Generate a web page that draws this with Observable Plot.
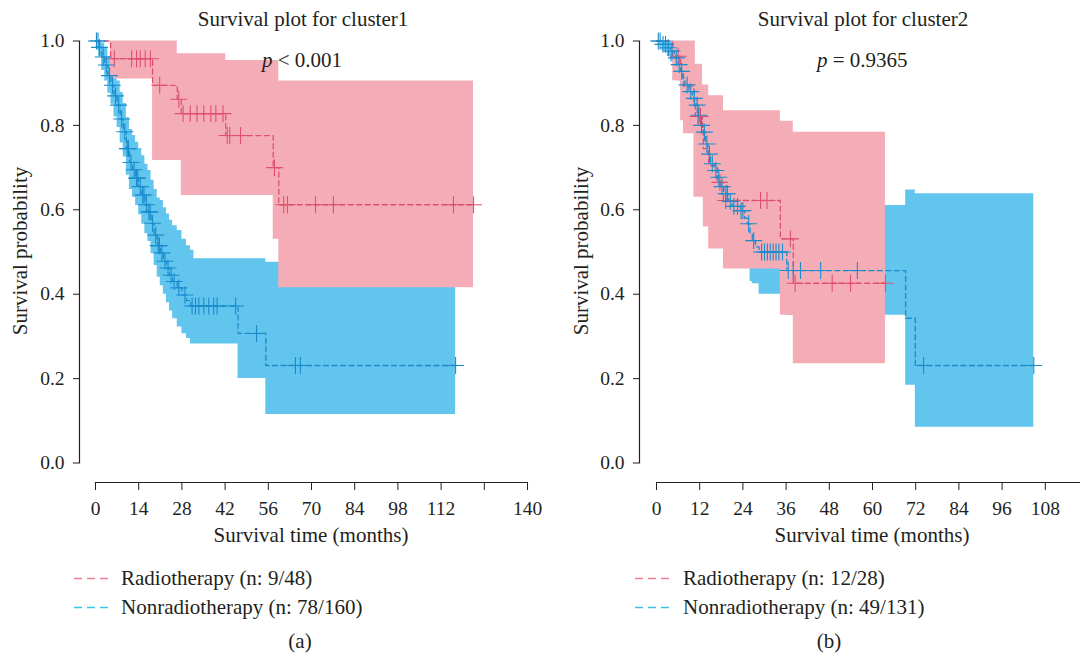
<!DOCTYPE html>
<html><head><meta charset="utf-8">
<script src="https://cdn.jsdelivr.net/npm/d3@7"></script>
<script src="https://cdn.jsdelivr.net/npm/@observablehq/plot@0.6"></script>
<style>
html,body{margin:0;padding:0;background:#fff;width:1080px;height:656px;overflow:hidden;}
body{position:relative;font-family:"Liberation Serif","Times New Roman",serif;color:#231f20;}
.abs{position:absolute;white-space:nowrap;font-size:21px;line-height:21px;}
.ctr{transform:translateX(-50%);}
.rot{transform:translate(-50%,-50%) rotate(-90deg);}
</style></head><body>
<script>
// ---------- Cluster 1 : Radiotherapy ----------
const c1RadTime  = [0, 4.9, 18.5, 26.5, 27.8, 42.2, 57.6, 59.4];
const c1RadSurv  = [1, 0.958, 0.895, 0.862, 0.828, 0.776, 0.70, 0.612];
const c1RadUpper = [1, 1.0, 1.0, 0.970, 0.970, 0.954, 0.954, 0.905];
const c1RadLower = [1, 0.910, 0.717, 0.717, 0.634, 0.634, 0.53, 0.415];
const c1RadEnd = 122.5;
const c1RadCensor = [6.1, 11.7, 13.3, 14.5, 16.1, 17.8, 20.8, 27.0, 28.4, 30.7, 32.9, 35.1, 37.4, 39.0, 41.3, 42.7, 43.5, 47.0, 58.0, 61.0, 62.2, 71.3, 77.1, 116.0, 122.5];
// ---------- Cluster 1 : Nonradiotherapy ----------
const c1NonTime  = [0, 1, 2, 3, 4, 5, 6, 7, 8, 9, 10, 11, 12, 13, 14, 15, 16, 17, 18, 19, 20, 21, 22, 23, 24, 25, 26.5, 28, 29.5, 30.8, 31.9, 46.2, 55.2];
const c1NonSurv  = [1, 0.985, 0.962, 0.943, 0.918, 0.895, 0.870, 0.848, 0.815, 0.785, 0.745, 0.712, 0.695, 0.675, 0.655, 0.635, 0.612, 0.595, 0.568, 0.540, 0.515, 0.498, 0.478, 0.462, 0.445, 0.430, 0.415, 0.398, 0.385, 0.372, 0.372, 0.307, 0.231];
const c1NonUpper = [1, 1.000, 0.995, 0.982, 0.963, 0.943, 0.925, 0.905, 0.878, 0.852, 0.818, 0.790, 0.776, 0.760, 0.745, 0.728, 0.708, 0.693, 0.670, 0.648, 0.628, 0.622, 0.605, 0.590, 0.575, 0.562, 0.551, 0.530, 0.515, 0.504, 0.484, 0.484, 0.476];
const c1NonLower = [1, 0.962, 0.930, 0.905, 0.876, 0.850, 0.820, 0.795, 0.758, 0.725, 0.682, 0.648, 0.630, 0.610, 0.588, 0.566, 0.543, 0.525, 0.496, 0.468, 0.440, 0.420, 0.400, 0.380, 0.360, 0.342, 0.322, 0.306, 0.295, 0.282, 0.282, 0.200, 0.115];
const c1NonEnd = 116.7;
const c1NonCensor = [0.3, 0.8, 1.3, 2.5, 3.5, 4.5, 5.5, 6.5, 7.5, 8.5, 9.5, 10.3, 10.7, 11.5, 12.5, 13.3, 13.7, 14.5, 15.3, 15.7, 16.5, 17.3, 17.7, 18.5, 19.5, 20.3, 20.7, 21.5, 22.5, 23.5, 24.5, 25.5, 27.0, 29.0, 31.3, 32.4, 33.5, 35.1, 36.7, 38.3, 39.4, 45.4, 52.2, 64.8, 66.4, 116.7];
// ---------- Cluster 2 : Radiotherapy ----------
const c2RadTime  = [0, 4.5, 6.7, 7.5, 10.4, 10.8, 12.8, 13.0, 14.5, 16.9, 18.6, 34.4, 38.0];
const c2RadSurv  = [1, 0.964, 0.929, 0.893, 0.857, 0.821, 0.785, 0.745, 0.705, 0.665, 0.622, 0.531, 0.426];
const c2RadUpper = [1, 1, 1, 1, 1, 0.945, 0.896, 0.896, 0.87, 0.87, 0.835, 0.81, 0.784];
const c2RadLower = [1, 0.906, 0.811, 0.78, 0.63, 0.63, 0.63, 0.559, 0.507, 0.507, 0.46, 0.35, 0.235];
const c2RadEnd = 63.6;
const c2RadCensor = [6.0, 11.5, 12.2, 17.6, 19.2, 28.9, 30.7, 37.2, 38.5, 48.8, 53.9, 63.6];
// ---------- Cluster 2 : Nonradiotherapy ----------
const c2NonTime  = [0, 1.5, 3.0, 3.9, 5.0, 6.0, 6.7, 7.3, 7.9, 9.0, 10.0, 11.0, 11.6, 12.2, 13.0, 13.6, 14.3, 15.0, 16.0, 16.9, 17.8, 18.7, 20.0, 21.0, 23.3, 24.5, 25.2, 26.0, 26.6, 27.5, 28.5, 36.2, 69.2, 71.9];
const c2NonSurv  = [1, 0.992, 0.984, 0.976, 0.960, 0.944, 0.928, 0.912, 0.896, 0.880, 0.864, 0.848, 0.824, 0.800, 0.784, 0.756, 0.732, 0.709, 0.693, 0.677, 0.655, 0.638, 0.620, 0.608, 0.598, 0.580, 0.567, 0.545, 0.527, 0.512, 0.500, 0.456, 0.343, 0.231];
const c2NonUpper = [1, 1.000, 1.000, 1.000, 0.993, 0.983, 0.972, 0.960, 0.948, 0.936, 0.923, 0.910, 0.890, 0.870, 0.856, 0.832, 0.810, 0.790, 0.776, 0.762, 0.742, 0.727, 0.710, 0.700, 0.690, 0.675, 0.663, 0.643, 0.626, 0.613, 0.600, 0.610, 0.647, 0.638];
const c2NonLower = [1, 0.977, 0.963, 0.950, 0.927, 0.905, 0.884, 0.864, 0.844, 0.824, 0.805, 0.786, 0.758, 0.730, 0.712, 0.680, 0.654, 0.628, 0.610, 0.592, 0.568, 0.549, 0.530, 0.516, 0.505, 0.485, 0.471, 0.430, 0.425, 0.425, 0.400, 0.350, 0.184, 0.085];
const c2NonEnd = 104.8;
const c2NonCensor = [0.5, 1.0, 1.8, 2.5, 3.3, 4.3, 5.5, 6.3, 7.0, 8.5, 9.5, 10.5, 11.3, 11.8, 12.5, 13.3, 14.0, 14.7, 15.5, 16.5, 17.3, 18.2, 19.3, 19.7, 20.5, 21.5, 22.5, 23.5, 24.0, 25.6, 27.0, 29.2, 30.0, 30.8, 31.6, 32.4, 33.2, 34.0, 35.0, 36.6, 38.0, 40.0, 45.6, 55.8, 74.2, 104.8];

// ---------- Axes & text ----------
const yTicks = [0, 0.2, 0.4, 0.6, 0.8, 1.0];
const xTicks1 = [0, 14, 28, 42, 56, 70, 84, 98, 112, 126, 140];
const xLabels1 = ["0", "14", "28", "42", "56", "70", "84", "98", "112", "", "140"];
const xTicks2 = [0, 12, 24, 36, 48, 60, 72, 84, 96, 108, 120];
const xLabels2 = ["0", "12", "24", "36", "48", "60", "72", "84", "96", "108", ""];
const titles = ["Survival plot for cluster1", "Survival plot for cluster2"];
const pTexts = ["< 0.001", "= 0.9365"];
const legend1 = ["Radiotherapy (n: 9/48)", "Nonradiotherapy (n: 78/160)"];
const legend2 = ["Radiotherapy (n: 12/28)", "Nonradiotherapy (n: 49/131)"];
const captions = ["(a)", "(b)"];
const xTitle = "Survival time (months)";
const yTitle = "Survival probability";

const radBand = "#f4adb7", nonBand = "#62c5ee";
const radLine = "#e0506c", nonLine = "#1a8ccd";
const radLeg = "#ee7d8f", nonLeg = "#3fc1ea";

function stepRows(time, surv, upper, lower, end) {
  const r = time.map((t, i) => ({t, s: surv[i], hi: upper[i], lo: lower[i]}));
  const k = time.length - 1;
  r.push({t: end, s: surv[k], hi: upper[k], lo: lower[k]});
  return r;
}
function censorRows(times, time, surv) {
  return times.map(t => ({t, s: surv[Math.max(0, d3.bisectRight(time, t) - 1)]}));
}

function addText(txt, x, y, cls, extra) {
  const d = document.createElement("div");
  d.className = "abs " + (cls || "");
  d.style.left = x + "px"; d.style.top = y + "px";
  if (extra) Object.assign(d.style, extra);
  d.innerHTML = txt;
  document.body.appendChild(d);
  return d;
}

function panel(cfg) {
  const rad = stepRows(...cfg.rad, cfg.radEnd);
  const non = stepRows(...cfg.non, cfg.nonEnd);
  const radC = censorRows(cfg.radCensor, cfg.rad[0], cfg.rad[1]);
  const nonC = censorRows(cfg.nonCensor, cfg.non[0], cfg.non[1]);
  const labelOf = new Map(cfg.xTicks.map((d, i) => [d, cfg.xLabels[i]]));
  const svg = Plot.plot({
    width: cfg.width, height: 488,
    marginLeft: cfg.mL, marginRight: cfg.mR, marginTop: 8.5, marginBottom: 38,
    x: {domain: cfg.xDomain, insetLeft: cfg.insetL, label: null},
    y: {domain: [0, 1], insetBottom: 19.5, label: null},
    style: {fontFamily: "'Liberation Serif', 'Times New Roman', serif", fontSize: "19.5px", color: "#231f20", background: "transparent", overflow: "visible", maxWidth: "none"},
    marks: [
      Plot.areaY(non, {x: "t", y1: "lo", y2: "hi", curve: "step-after", fill: nonBand}),
      Plot.areaY(rad, {x: "t", y1: "lo", y2: "hi", curve: "step-after", fill: radBand}),
      Plot.line(rad, {x: "t", y: "s", curve: "step-after", stroke: radLine, strokeWidth: 1.3, strokeDasharray: "5,3.5"}),
      Plot.line(non, {x: "t", y: "s", curve: "step-after", stroke: nonLine, strokeWidth: 1.3, strokeDasharray: "5,3.5"}),
      Plot.dot(radC, {x: "t", y: "s", symbol: "plus", r: 5.5, stroke: radLine, strokeWidth: 1.1}),
      Plot.dot(nonC, {x: "t", y: "s", symbol: "plus", r: 5.5, stroke: nonLine, strokeWidth: 1.1}),
      Plot.frame({anchor: "left", insetBottom: 19.5, stroke: "#231f20", strokeWidth: 1.2}),
      Plot.frame({anchor: "bottom", insetLeft: cfg.insetL, stroke: "#231f20", strokeWidth: 1.2}),
      Plot.axisX({ticks: cfg.xTicks, tickSize: 8, tickPadding: 11, tickFormat: d => labelOf.get(d), label: null, stroke: "#231f20", fill: "#231f20"}),
      Plot.axisY({ticks: yTicks, tickSize: 6, tickPadding: 9, tickFormat: d3.format(".1f"), label: null, stroke: "#231f20", fill: "#231f20"})
    ]
  });
  svg.style.position = "absolute";
  svg.style.left = cfg.left + "px";
  svg.style.top = "32px";
  document.body.appendChild(svg);
}

panel({left: 0, width: 540, mL: 79, mR: 13, insetL: 16, xDomain: [0, 140], xTicks: xTicks1, xLabels: xLabels1,
  rad: [c1RadTime, c1RadSurv, c1RadUpper, c1RadLower], radEnd: c1RadEnd, radCensor: c1RadCensor,
  non: [c1NonTime, c1NonSurv, c1NonUpper, c1NonLower], nonEnd: c1NonEnd, nonCensor: c1NonCensor});
panel({left: 540, width: 560, mL: 99, mR: 12, insetL: 17, xDomain: [0, 120], xTicks: xTicks2, xLabels: xLabels2,
  rad: [c2RadTime, c2RadSurv, c2RadUpper, c2RadLower], radEnd: c2RadEnd, radCensor: c2RadCensor,
  non: [c2NonTime, c2NonSurv, c2NonUpper, c2NonLower], nonEnd: c2NonEnd, nonCensor: c2NonCensor});

// titles
addText(titles[0], 303, 9, "ctr");
addText(titles[1], 863, 9, "ctr");
// p-values
addText("<i>p</i> " + pTexts[0], 262, 50);
addText("<i>p</i> " + pTexts[1], 817, 50);
// axis titles
addText(xTitle, 311, 525, "ctr");
addText(xTitle, 872, 525, "ctr");
addText(yTitle, 20, 251, "rot");
addText(yTitle, 581, 251, "rot");
// legends
function legend(labels, x0, textX) {
  const cols = [radLeg, nonLeg];
  labels.forEach((lab, i) => {
    const top = 568 + i * 29;
    addText(`<svg width="36" height="21" style="display:block"><line x1="0" x2="35" y1="10.5" y2="10.5" stroke="${cols[i]}" stroke-width="1.3" stroke-dasharray="8,5"/></svg>`, x0, top);
    addText(lab, textX, top);
  });
}
legend(legend1, 74, 121);
legend(legend2, 635, 683);
// captions
addText(captions[0], 300, 631, "ctr");
addText(captions[1], 829, 631, "ctr");
</script>
</body></html>
